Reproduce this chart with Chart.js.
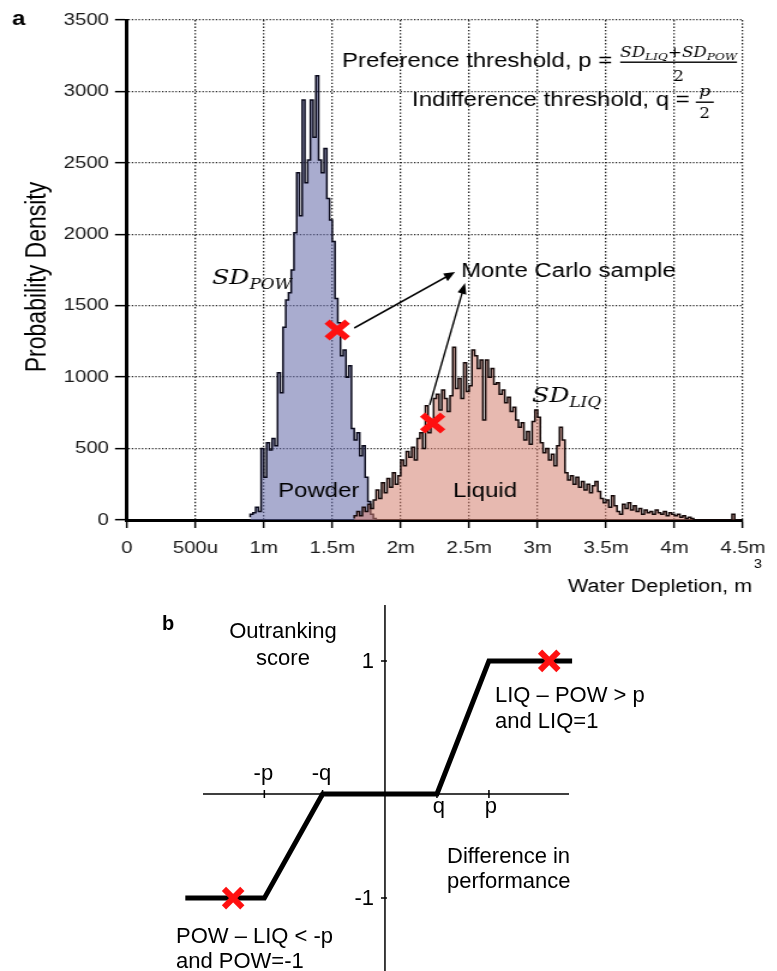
<!DOCTYPE html>
<html>
<head>
<meta charset="utf-8">
<script src="https://cdn.jsdelivr.net/npm/chart.js@4.4.0/dist/chart.umd.min.js"></script>
<style>
  html, body { margin: 0; padding: 0; background: #fff; }
  body { width: 777px; height: 971px; position: relative; overflow: hidden; }
  #topWrap { position: absolute; left: 0; top: 0; width: 648px; height: 600px; transform: scaleX(1.2); transform-origin: 0 0; }
  #outrankChart { position: absolute; left: 0; top: 600px; }
</style>
</head>
<body>
<div id="topWrap"><canvas id="depletionChart" width="648" height="600"></canvas></div>
<canvas id="outrankChart" width="777" height="371"></canvas>
<script>
// ---- panel a: water depletion histograms ----
var binWidth = 0.02;
var powderStart = 0.90;
var powderValues = [
  20, 40, 50, 90, 60, 500, 300, 540, 490, 570,
  520, 1030, 890, 1350, 1540, 1590, 1750, 2010, 2430, 2130,
  2940, 2360, 2520, 2940, 2680, 3110, 2520, 2430, 2600, 2250,
  2100, 1950, 1550, 1380, 1150, 1190, 1000, 1080, 640, 560,
  610, 450, 520, 300, 130, 40, 10
];
var liquidStart = 1.66;
var liquidValues = [
  10, 30, 60, 30, 90, 60, 110, 80, 140, 210,
  150, 260, 190, 290, 230, 330, 250, 310, 420, 380,
  480, 440, 510, 420, 570, 610, 500, 800, 610, 700,
  850, 880, 770, 910, 850, 760, 870, 1210, 920, 990,
  850, 1100, 900, 940, 1190, 1150, 1060, 1120, 700, 1120,
  1000, 1060, 950, 960, 880, 910, 820, 860, 760, 790,
  700, 650, 680, 560, 620, 530, 690, 770, 720, 540,
  470, 500, 420, 460, 380, 520, 650, 560, 330, 280,
  310, 250, 300, 230, 270, 210, 250, 190, 240, 270,
  200, 150, 120, 140, 90, 170, 100, 60, 40, 110,
  80, 120, 70, 100, 60, 80, 40, 70, 50, 60,
  40, 70, 50, 40, 60, 30, 50, 40, 30, 40,
  20, 30, 10, 20, 10, 0, 0, 0, 0, 0,
  0, 0, 0, 0, 0, 0, 0, 0, 0, 40,
  0
];
var xTickLabels = ['0', '500u', '1m', '1.5m', '2m', '2.5m', '3m', '3.5m', '4m', '4.5m'];
var sampleDepletion = [1.536, 2.233];
var sampleDensity = [1330, 679];

var SX = 1.2; // panel a is stretched sideways like the original

function toSteps(start, values) {
  var pts = values.map(function (v, i) { return { x: start + i * binWidth, y: v }; });
  pts.push({ x: start + values.length * binWidth, y: 0 });
  return pts;
}

function text(ctx, s, x, y, font, align) {
  ctx.font = font;
  ctx.textAlign = align || 'left';
  ctx.textBaseline = 'alphabetic';
  ctx.fillText(s, x / SX, y);
}

function parts(ctx, list, x, y) {
  // draws pieces of math text one after another, returns end x (page coords)
  list.forEach(function (p) {
    ctx.font = p.f;
    ctx.textAlign = 'left';
    ctx.textBaseline = 'alphabetic';
    ctx.fillText(p.t, x / SX, y + (p.dy || 0));
    x += ctx.measureText(p.t).width * SX;
  });
  return x;
}

function arrow(ctx, x1, y1, x2, y2) {
  ctx.save();
  ctx.scale(1 / SX, 1);
  var ang = Math.atan2(y2 - y1, x2 - x1), len = 11, hw = 4.5;
  ctx.strokeStyle = '#000';
  ctx.fillStyle = '#000';
  ctx.lineWidth = 1.6;
  ctx.beginPath();
  ctx.moveTo(x1, y1);
  ctx.lineTo(x2 - Math.cos(ang) * len * 0.8, y2 - Math.sin(ang) * len * 0.8);
  ctx.stroke();
  ctx.beginPath();
  ctx.moveTo(x2, y2);
  ctx.lineTo(x2 - Math.cos(ang) * len - Math.sin(ang) * hw, y2 - Math.sin(ang) * len + Math.cos(ang) * hw);
  ctx.lineTo(x2 - Math.cos(ang) * len + Math.sin(ang) * hw, y2 - Math.sin(ang) * len - Math.cos(ang) * hw);
  ctx.closePath();
  ctx.fill();
  ctx.restore();
}

var SANS = '"Liberation Sans", Arial, sans-serif';
var MATH = '"DejaVu Serif", serif';

var depletionDecor = {
  id: 'depletionDecor',
  afterDraw: function (chart) {
    var ctx = chart.ctx;
    ctx.save();
    ctx.fillStyle = '#000';

    text(ctx, 'a', 12, 25, 'bold 20px ' + SANS);

    // y title
    ctx.save();
    ctx.translate(38 / SX, 277);
    ctx.rotate(-Math.PI / 2);
    ctx.font = '23px ' + SANS;
    ctx.textAlign = 'center';
    ctx.textBaseline = 'middle';
    ctx.fillText('Probability Density', 0, 0);
    ctx.restore();

    // x title with superscript
    text(ctx, 'Water Depletion, m', 752, 592, '18px ' + SANS, 'right');
    text(ctx, '3', 754, 568, '12px ' + SANS);

    // thresholds
    ctx.font = '20px ' + SANS;
    var pre = 'Preference threshold, p =';
    text(ctx, pre, 342, 67, '20px ' + SANS);
    var fx = 342 + ctx.measureText(pre).width * SX + 8;
    var fEnd = parts(ctx, [
      { t: 'SD', f: 'italic 14px ' + MATH },
      { t: 'LIQ', f: 'italic 10px ' + MATH, dy: 3 },
      { t: '+', f: '14px ' + MATH },
      { t: 'SD', f: 'italic 14px ' + MATH },
      { t: 'POW', f: 'italic 10px ' + MATH, dy: 3 }
    ], fx, 57);
    ctx.save();
    ctx.scale(1 / SX, 1);
    ctx.fillRect(fx, 61.5, fEnd - fx, 1.4);
    ctx.restore();
    text(ctx, '2', (fx + fEnd) / 2, 81, '14px ' + MATH, 'center');

    var ind = 'Indifference threshold, q =';
    ctx.font = '20px ' + SANS;
    text(ctx, ind, 412, 106, '20px ' + SANS);
    var qx = 412 + ctx.measureText(ind).width * SX + 6;
    text(ctx, 'p', qx + 9, 96, 'italic 15px ' + MATH, 'center');
    ctx.save();
    ctx.scale(1 / SX, 1);
    ctx.fillRect(qx, 101.5, 18, 1.4);
    ctx.restore();
    text(ctx, '2', qx + 9, 118, '14px ' + MATH, 'center');

    // labels
    parts(ctx, [
      { t: 'SD', f: 'italic 21px ' + MATH },
      { t: 'POW', f: 'italic 14px ' + MATH, dy: 5 }
    ], 212, 284);
    parts(ctx, [
      { t: 'SD', f: 'italic 21px ' + MATH },
      { t: 'LIQ', f: 'italic 14px ' + MATH, dy: 5 }
    ], 532, 402);
    text(ctx, 'Monte Carlo sample', 461, 277, '20px ' + SANS);
    text(ctx, 'Powder', 278, 497, '20px ' + SANS);
    text(ctx, 'Liquid', 453, 497, '20px ' + SANS);

    // arrows from the two samples
    var m = chart.getDatasetMeta(0).data;
    arrow(ctx, m[0].x * SX + 17, m[0].y - 2, 455, 272);
    arrow(ctx, m[1].x * SX - 3, m[1].y - 18, 465, 283);
    ctx.restore();
  }
};

new Chart(document.getElementById('depletionChart').getContext('2d'), {
  type: 'line',
  data: {
    datasets: [{
      label: 'Monte Carlo sample',
      data: sampleDepletion.map(function (x, i) { return { x: x, y: sampleDensity[i] }; }),
      showLine: false,
      pointStyle: 'crossRot',
      pointRadius: 12,
      pointBorderWidth: 6,
      pointBorderColor: '#ff1010',
      pointBackgroundColor: '#ff1010'
    }, {
      label: 'Liquid',
      data: toSteps(liquidStart, liquidValues),
      stepped: 'after',
      fill: 'origin',
      backgroundColor: 'rgba(212,128,112,0.55)',
      borderColor: '#140808',
      borderWidth: 1.5,
      pointRadius: 0
    }, {
      label: 'Powder',
      data: toSteps(powderStart, powderValues),
      stepped: 'after',
      fill: 'origin',
      backgroundColor: 'rgba(98,104,168,0.55)',
      borderColor: '#08081a',
      borderWidth: 1.5,
      pointRadius: 0
    }]
  },
  options: {
    responsive: false,
    animation: false,
    events: [],
    layout: { autoPadding: false, padding: { top: 20, right: 20.5, left: 0, bottom: 0 } },
    plugins: { legend: { display: false }, tooltip: { enabled: false } },
    scales: {
      x: {
        type: 'linear',
        min: 0,
        max: 4.5,
        afterFit: function (s) { s.height = 80; },
        ticks: {
          stepSize: 0.5,
          color: '#1a1a1a',
          padding: 10,
          maxRotation: 0,
          font: { family: SANS, size: 17 },
          callback: function (v, i) { return xTickLabels[i]; }
        },
        grid: { color: '#222', lineWidth: 1.3, tickLength: 8, tickColor: '#000', tickWidth: 1.5, tickBorderDash: [] },
        border: { color: '#000', width: 3, dash: [1.4, 1.9] }
      },
      y: {
        min: 0,
        max: 3500,
        afterFit: function (s) { s.width = 105.8; },
        ticks: {
          stepSize: 500,
          color: '#1a1a1a',
          padding: 5,
          font: { family: SANS, size: 17 },
          callback: function (v) { return String(v); }
        },
        grid: { color: '#222', lineWidth: 1.3, tickLength: 10, tickColor: '#000', tickWidth: 1.5, tickBorderDash: [] },
        border: { color: '#000', width: 3, dash: [1.2, 1.6] }
      }
    }
  },
  plugins: [depletionDecor]
});

// ---- panel b: outranking function ----
var diffValues = [-1.92, -1.16, -0.6, 0.5, 1.0, 1.8];
var scoreValues = [-1, -1, 0, 0, 1, 1];
var sampleDiff = [-1.46, 1.58];
var sampleScore = [-1, 1];
var diffTicks = [-1.16, -0.6, 0.5, 1.0];
var diffTickLabels = ['-p', '-q', 'q', 'p'];
var scoreTicks = [1, -1];
var scoreTickLabels = ['1', '-1'];

// the sketch draws the positive and negative score halves at different scales
class SplitLinearScale extends Chart.LinearScale {
  getPixelForValue(value) {
    var zero = this.top + this.height * this.options.zeroAt;
    if (value >= 0) return zero - (value / this.max) * (zero - this.top);
    return zero + (value / this.min) * (this.bottom - zero);
  }
}
SplitLinearScale.id = 'splitLinear';
SplitLinearScale.defaults = Chart.LinearScale.defaults;
Chart.register(SplitLinearScale);

var outrankDecor = {
  id: 'outrankDecor',
  beforeDatasetsDraw: function (chart) {
    var ctx = chart.ctx, a = chart.chartArea, xs = chart.scales.x, ys = chart.scales.y;
    var x0 = xs.getPixelForValue(0), y0 = ys.getPixelForValue(0);
    ctx.save();
    ctx.strokeStyle = '#000';
    ctx.lineWidth = 1.5;
    ctx.beginPath();
    ctx.moveTo(a.left, y0); ctx.lineTo(a.right, y0);
    ctx.moveTo(x0, a.top); ctx.lineTo(x0, a.bottom);
    diffTicks.forEach(function (v) {
      var x = xs.getPixelForValue(v);
      ctx.moveTo(x, y0 - 4); ctx.lineTo(x, y0 + 4);
    });
    scoreTicks.forEach(function (v) {
      var y = ys.getPixelForValue(v);
      ctx.moveTo(x0 - 4, y); ctx.lineTo(x0 + 2, y);
    });
    ctx.stroke();
    ctx.restore();
  },
  afterDatasetsDraw: function (chart) {
    var ctx = chart.ctx, xs = chart.scales.x, ys = chart.scales.y;
    var x0 = xs.getPixelForValue(0), y0 = ys.getPixelForValue(0);
    ctx.save();
    ctx.fillStyle = '#000';
    ctx.textBaseline = 'alphabetic';
    ctx.font = '22px ' + SANS;
    ctx.textAlign = 'center';
    diffTicks.forEach(function (v, i) {
      var below = v > 0;
      ctx.fillText(diffTickLabels[i], xs.getPixelForValue(v) + (below ? 2 : -1), below ? y0 + 19 : y0 - 14);
    });
    ctx.textAlign = 'right';
    ctx.textBaseline = 'middle';
    scoreTicks.forEach(function (v, i) {
      ctx.fillText(scoreTickLabels[i], x0 - 11, ys.getPixelForValue(v) + 1);
    });
    ctx.textBaseline = 'alphabetic';
    ctx.textAlign = 'center';
    ctx.fillText('Outranking', 283, 38);
    ctx.fillText('score', 283, 65);
    ctx.textAlign = 'left';
    ctx.fillText('LIQ \u2013 POW > p', 495, 102);
    ctx.fillText('and LIQ=1', 495, 128);
    ctx.fillText('Difference in', 447, 263);
    ctx.fillText('performance', 447, 288);
    ctx.fillText('POW \u2013 LIQ < -p', 176, 343);
    ctx.fillText('and POW=-1', 176, 368);
    ctx.font = 'bold 20px ' + SANS;
    ctx.fillText('b', 162, 30);
    ctx.restore();
  }
};

new Chart(document.getElementById('outrankChart').getContext('2d'), {
  type: 'line',
  data: {
    datasets: [{
      label: 'Monte Carlo sample',
      data: sampleDiff.map(function (x, i) { return { x: x, y: sampleScore[i] }; }),
      showLine: false,
      pointStyle: 'crossRot',
      pointRadius: 13,
      pointBorderWidth: 6,
      pointBorderColor: '#ff1010',
      pointBackgroundColor: '#ff1010'
    }, {
      label: 'Outranking score',
      data: diffValues.map(function (x, i) { return { x: x, y: scoreValues[i] }; }),
      borderColor: '#000',
      borderWidth: 5,
      borderJoinStyle: 'miter',
      pointRadius: 0,
      clip: false
    }]
  },
  options: {
    responsive: false,
    animation: false,
    events: [],
    layout: { autoPadding: false, padding: { left: 203, right: 208, top: 5, bottom: 0 } },
    plugins: { legend: { display: false }, tooltip: { enabled: false } },
    scales: {
      x: { type: 'linear', min: -1.75, max: 1.77, display: false },
      y: { type: 'splitLinear', min: -1.70, max: 1.42, zeroAt: 0.5164, display: false }
    }
  },
  plugins: [outrankDecor]
});
</script>
</body>
</html>
